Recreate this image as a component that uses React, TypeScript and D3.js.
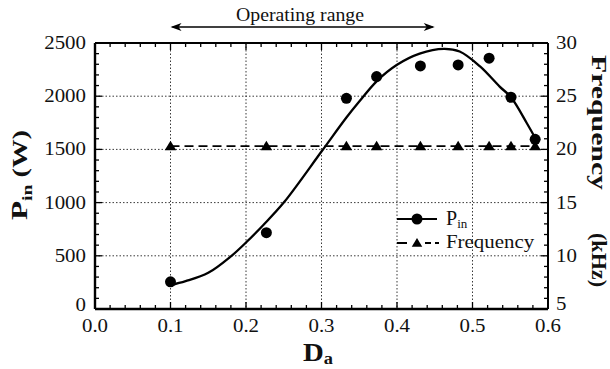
import React from "react";
import * as d3 from "d3";

// measured data (Pin vs Da), frequency series
const daValues = [0.1, 0.227, 0.333, 0.373, 0.431, 0.481, 0.522, 0.551, 0.583];
const pinValues = [255, 717, 1980, 2184, 2284, 2294, 2357, 1990, 1595];
const freqValues = [20.3, 20.3, 20.3, 20.3, 20.3, 20.3, 20.3, 20.3, 20.3];

// fitted curve
const fitDa = [0.1, 0.12, 0.15, 0.18, 0.2, 0.223, 0.25, 0.3, 0.333, 0.35, 0.373, 0.4, 0.43, 0.462, 0.483, 0.51, 0.536, 0.551, 0.572, 0.587];
const fitPin = [225, 262, 340, 495, 625, 790, 1000, 1480, 1800, 1950, 2140, 2295, 2400, 2445, 2420, 2280, 2090, 1990, 1746, 1557];

const xTicks = [0, 0.1, 0.2, 0.3, 0.4, 0.5, 0.6];
const xTickLabels = ["0.0", "0.1", "0.2", "0.3", "0.4", "0.5", "0.6"];
const pTicks = [0, 500, 1000, 1500, 2000, 2500];
const fTicks = [5, 10, 15, 20, 25, 30];
const opRange = [0.1, 0.45];

const W = 610, H = 369;
const L = 95, R = 548, T = 43, B = 309;
const FONT = "Liberation Serif";

export default function App() {
  const x = d3.scaleLinear().domain([0, 0.6]).range([L, R]);
  const yP = d3.scaleLinear().domain([0, 2500]).range([B, T]);
  const yF = d3.scaleLinear().domain([5, 30]).range([B, T]);

  const fitLine = d3
    .line<number>()
    .x((_, i) => x(fitDa[i]))
    .y((d) => yP(d))
    .curve(d3.curveCatmullRom.alpha(0.5))(fitPin) as string;

  const freqLine = d3
    .line<number>()
    .x((_, i) => x(daValues[i]))
    .y((d) => yF(d))(freqValues) as string;

  const xMinor = d3.range(0, 0.6001, 0.02);
  const pMinor = d3.range(0, 2501, 100);
  const fMinor = d3.range(5, 30.01, 1);

  const grid = "#222";
  const tri = (cx: number, cy: number, s = 5.5) =>
    `M${cx},${cy - s}L${cx + s * 1.05},${cy + s * 0.75}L${cx - s * 1.05},${cy + s * 0.75}Z`;

  const num = (xp: number, yp: number, label: string, anchor: string, key: string) => (
    <text
      key={key}
      transform={`translate(${xp},${yp}) scale(1.1,1)`}
      textAnchor={anchor as any}
      fontSize={19}
      style={{ fontFamily: FONT }}
      fill="#111"
    >
      {label}
    </text>
  );

  return (
    <svg width={W} height={H} style={{ position: "absolute", left: 0, top: 0, background: "#fff", fontFamily: FONT }}>
      <rect x={0} y={0} width={W} height={H} fill="#fff" />
      {/* gridlines */}
      {xTicks.slice(1, -1).map((t) => (
        <line key={"gx" + t} x1={x(t)} x2={x(t)} y1={T} y2={B} stroke={grid} strokeWidth={0.9} strokeDasharray="1.5,2" />
      ))}
      {pTicks.slice(1, -1).map((t) => (
        <line key={"gy" + t} x1={L} x2={R} y1={yP(t)} y2={yP(t)} stroke={grid} strokeWidth={0.9} strokeDasharray="1.5,2" />
      ))}

      {/* ticks */}
      {xMinor.map((t, i) => {
        const len = i % 5 === 0 ? 7 : 4;
        return (
          <g key={"xt" + i}>
            <line x1={x(t)} x2={x(t)} y1={B} y2={B - len} stroke="#000" strokeWidth={1.3} />
            <line x1={x(t)} x2={x(t)} y1={T} y2={T + len} stroke="#000" strokeWidth={1.3} />
          </g>
        );
      })}
      {pMinor.map((t, i) => (
        <line key={"pt" + i} x1={L} x2={L + (i % 5 === 0 ? 7 : 4)} y1={yP(t)} y2={yP(t)} stroke="#000" strokeWidth={1.3} />
      ))}
      {fMinor.map((t, i) => (
        <line key={"ft" + i} x1={R} x2={R - (i % 5 === 0 ? 7 : 4)} y1={yF(t)} y2={yF(t)} stroke="#000" strokeWidth={1.3} />
      ))}

      {/* frame */}
      <line x1={L} x2={R} y1={T} y2={T} stroke="#000" strokeWidth={1.8} />
      <line x1={L} x2={R} y1={B} y2={B} stroke="#000" strokeWidth={2.4} />
      <line x1={L} x2={L} y1={T} y2={B} stroke="#000" strokeWidth={2.4} />
      <line x1={R} x2={R} y1={T} y2={B} stroke="#000" strokeWidth={2} />

      {/* tick labels */}
      {pTicks.map((t, i) => num(L - 9, yP(t) + (i === 0 ? 2 : 6), String(t), "end", "pl" + t))}
      {xTicks.map((t, i) => num(x(t), 332, xTickLabels[i], "middle", "xl" + t))}
      {fTicks.map((t, i) => num(R + 8, yF(t) + (i === 0 ? 1 : 6), String(t), "start", "fl" + t))}

      {/* frequency dashed line and triangles */}
      <path d={freqLine} fill="none" stroke="#000" strokeWidth={1.8} strokeDasharray="9,5" />
      {daValues.map((d, i) => (
        <path key={"tr" + i} d={tri(x(d), yF(freqValues[i]))} fill="#000" />
      ))}

      {/* fitted curve and Pin dots */}
      <path d={fitLine} fill="none" stroke="#000" strokeWidth={2.3} />
      {daValues.map((d, i) => (
        <circle key={"dot" + i} cx={x(d)} cy={yP(pinValues[i])} r={5.5} fill="#000" />
      ))}

      {/* legend */}
      <line x1={397} x2={437} y1={219} y2={219} stroke="#000" strokeWidth={1.8} />
      <circle cx={417} cy={219} r={5.5} fill="#000" />
      <text x={446} y={225} fontSize={20} style={{ fontFamily: FONT }} fill="#111">
        P<tspan fontSize={13} dy={3}>in</tspan>
      </text>
      <path d="M397,243H407 M425,243H431 M435,243H439" stroke="#000" strokeWidth={1.8} />
      <path d={tri(417, 243, 5)} fill="#000" />
      <text transform="translate(446,248) scale(1.1,1)" fontSize={19} style={{ fontFamily: FONT }} fill="#111">
        Frequency
      </text>

      {/* operating range */}
      <line x1={x(opRange[0]) + 2} x2={x(opRange[1]) - 2} y1={27} y2={27} stroke="#000" strokeWidth={1.3} />
      <path d={`M${x(opRange[0])},27 l11,-4 l-3,4 l3,4 Z`} fill="#000" />
      <path d={`M${x(opRange[1])},27 l-11,-4 l3,4 l-3,4 Z`} fill="#000" />
      <text transform="translate(300,21) scale(1.1,1)" textAnchor="middle" fontSize={18} style={{ fontFamily: FONT }} fill="#111">
        Operating range
      </text>

      {/* axis titles */}
      <text
        transform="translate(27,175) rotate(-90) scale(1.3,1)"
        textAnchor="middle"
        fontSize={22}
        fontWeight="bold"
        style={{ fontFamily: FONT }}
        fill="#111"
      >
        <tspan fontSize={24}>P</tspan>
        <tspan fontSize={15} dy={5}>in</tspan>
        <tspan dy={-5}>{"\u00a0(W)"}</tspan>
      </text>
      <text
        transform="translate(318,361) scale(1.15,1)"
        textAnchor="middle"
        fontSize={25}
        fontWeight="bold"
        style={{ fontFamily: FONT }}
        fill="#111"
      >
        D<tspan fontSize={16} dy={3}>a</tspan>
      </text>
      <text
        transform="translate(592,55) rotate(90)"
        fontSize={21}
        fontWeight="bold"
        style={{ fontFamily: FONT }}
        fill="#111"
        textLength={135}
        lengthAdjust="spacingAndGlyphs"
      >
        Frequency
      </text>
      <text
        transform="translate(592,233) rotate(90)"
        fontSize={21}
        fontWeight="bold"
        style={{ fontFamily: FONT }}
        fill="#111"
        textLength={54}
        lengthAdjust="spacingAndGlyphs"
      >
        (kHz)
      </text>
    </svg>
  );
}
